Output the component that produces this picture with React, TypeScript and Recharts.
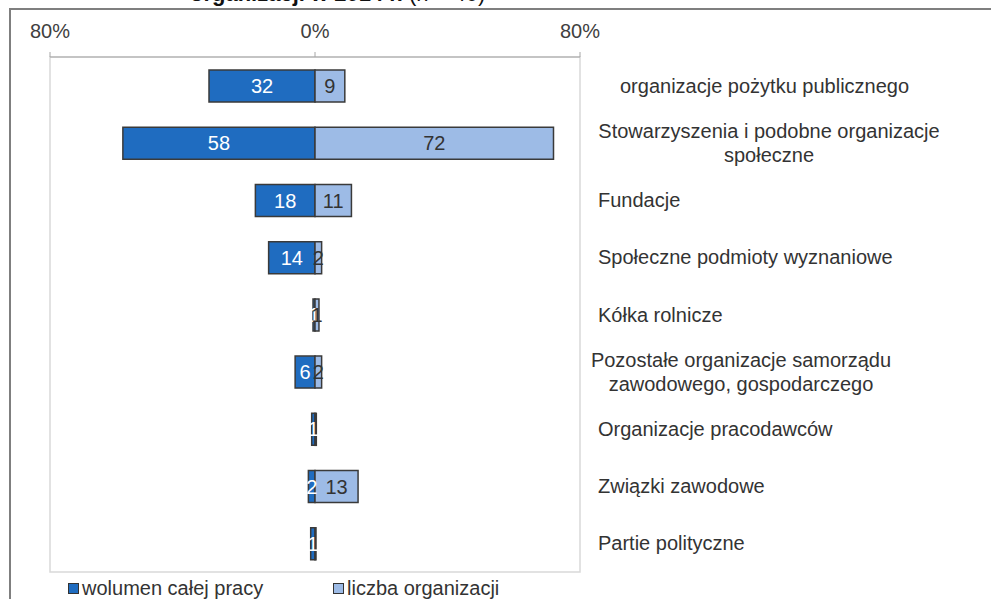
import { BarChart, Bar, XAxis, YAxis, LabelList, ReferenceArea } from "recharts";

// ── data ──
const categories = [
  "organizacje pożytku publicznego",
  "Stowarzyszenia i podobne organizacje\nspołeczne",
  "Fundacje",
  "Społeczne podmioty wyznaniowe",
  "Kółka rolnicze",
  "Pozostałe organizacje samorządu\nzawodowego, gospodarczego",
  "Organizacje pracodawców",
  "Związki zawodowe",
  "Partie polityczne",
];
const wolumen = [32, 58, 18, 14, 0.6, 6, 1, 2, 1.3];
const liczba = [9, 72, 11, 2, 1.2, 2, 0.4, 13, 0.3];
const xTicks = [-80, 0, 80];
const seriesNames = ["wolumen całej pracy", "liczba organizacji"];

const data = categories.map((name, i) => ({
  name,
  wolumen: -wolumen[i],
  liczba: liczba[i],
}));

const DARK = "#1f6cc0";
const LIGHT = "#9dbbe6";
const FONT = "'Liberation Sans', Arial, sans-serif";

// label tweaks for the right-hand category text
const firstLineShift: Record<number, number> = { 0: 22 };
const blockCenter: Record<number, number> = { 1: 171, 5: 143 };

const CategoryTick = (props: any) => {
  const { x, y, payload, index } = props;
  const i = payload?.index ?? index;
  const lines = String(payload.value).split("\n");
  const left = x + 10;
  if (lines.length === 1) {
    return (
      <text x={left + (firstLineShift[i] || 0)} y={y} dy={7} fill="#333" fontSize={20} fontFamily={FONT}>
        {lines[0]}
      </text>
    );
  }
  const cx = left + (blockCenter[i] || 0);
  return (
    <text x={cx} y={y} fill="#333" fontSize={20} fontFamily={FONT} textAnchor="middle">
      {lines.map((l, k) => (
        <tspan key={k} x={cx} dy={k === 0 ? -5 : 24}>
          {l}
        </tspan>
      ))}
    </text>
  );
};

const fmt = (v: any) => {
  const r = Math.round(Math.abs(Number(v)));
  return r === 0 ? "" : String(r);
};

export default function App() {
  return (
    <div
      style={{
        position: "absolute",
        left: 0,
        top: 0,
        width: 991,
        height: 599,
        overflow: "hidden",
        background: "#fff",
        fontFamily: FONT,
      }}
    >
      {/* title, cut off by the top edge as in the source */}
      <div
        style={{
          position: "absolute",
          left: 190,
          top: -19,
          fontSize: 22,
          color: "#111",
          whiteSpace: "nowrap",
        }}
      >
        <b>organizacji w 2014 r.</b> (n = 40)
      </div>
      {/* outer frame */}
      <div
        style={{
          position: "absolute",
          left: 9,
          top: 8,
          width: 1000,
          height: 700,
          borderLeft: "2px solid #7f7f7f",
          borderTop: "2px solid #7f7f7f",
        }}
      />
      <div style={{ position: "absolute", left: 0, top: 0 }}>
        <BarChart
          width={991}
          height={599}
          data={data}
          layout="vertical"
          stackOffset="sign"
          barSize={32}
          margin={{ top: 27, right: 0, bottom: 27, left: 50 }}
        >
          <ReferenceArea x1={-80} x2={80} fill="none" stroke="#d9d9d9" strokeWidth={1.5} ifOverflow="visible" />
          <XAxis
            type="number"
            orientation="top"
            domain={[-80, 80]}
            ticks={xTicks}
            allowDataOverflow
            height={30}
            tickSize={5}
            tickMargin={14}
            stroke="#a6a6a6"
            tick={{ fill: "#404040", fontSize: 20, fontFamily: FONT }}
            tickFormatter={(v: number) => `${Math.abs(v)}%`}
          />
          <YAxis
            type="category"
            dataKey="name"
            orientation="right"
            width={411}
            interval={0}
            axisLine={false}
            tickLine={false}
            tick={<CategoryTick />}
          />
          <Bar
            dataKey="wolumen"
            name={seriesNames[0]}
            stackId="a"
            fill={DARK}
            stroke="#3a3a3a"
            strokeWidth={1.5}
            isAnimationActive={false}
          >
            <LabelList
              dataKey="wolumen"
              position="center"
              formatter={fmt}
              fill="#fff"
              fontSize={20}
              fontFamily={FONT}
            />
          </Bar>
          <Bar
            dataKey="liczba"
            name={seriesNames[1]}
            stackId="a"
            fill={LIGHT}
            stroke="#3a3a3a"
            strokeWidth={1.5}
            isAnimationActive={false}
          >
            <LabelList
              dataKey="liczba"
              position="center"
              formatter={fmt}
              fill="#333"
              fontSize={20}
              fontFamily={FONT}
            />
          </Bar>
        </BarChart>
      </div>
      {/* legend */}
      {seriesNames.map((n, i) => (
        <div
          key={n}
          style={{
            position: "absolute",
            left: i === 0 ? 68 : 333,
            top: 577,
            display: "flex",
            alignItems: "center",
            fontSize: 20,
            color: "#333",
            whiteSpace: "nowrap",
          }}
        >
          <span
            style={{
              display: "inline-block",
              width: 9,
              height: 9,
              marginRight: 3,
              background: i === 0 ? DARK : LIGHT,
              border: "1.5px solid #333",
            }}
          />
          {n}
        </div>
      ))}
    </div>
  );
}
